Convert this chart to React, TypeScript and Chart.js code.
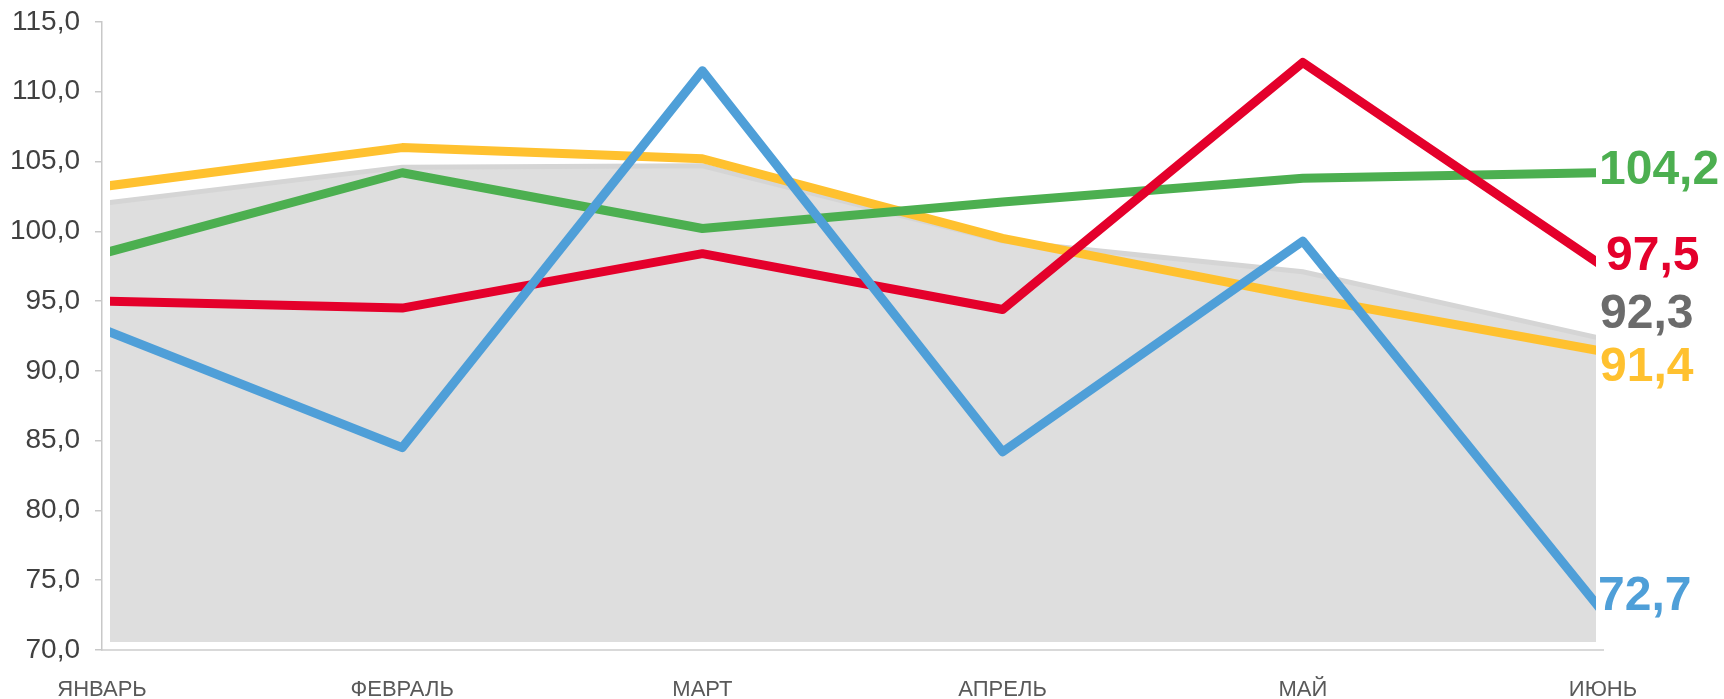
import { useEffect, useRef } from 'react';
import { Chart, registerables } from 'chart.js';

Chart.register(...registerables);

const months = ['ЯНВАРЬ', 'ФЕВРАЛЬ', 'МАРТ', 'АПРЕЛЬ', 'МАЙ', 'ИЮНЬ'];
const blueValues = [93.0, 84.5, 111.5, 84.2, 99.3, 72.7];
const redValues = [95.0, 94.5, 98.4, 94.4, 112.1, 97.5];
const greenValues = [98.4, 104.2, 100.2, 102.1, 103.8, 104.2];
const yellowValues = [103.2, 106.0, 105.2, 99.5, 95.3, 91.4];
const grayValues = [102.0, 104.6, 104.7, 99.3, 97.1, 92.3];

const yMin = 70;
const yMax = 115;
const yStep = 5;

const fmt = (v: number) => v.toFixed(1).replace('.', ',');

// label styling (order matches datasets)
const labelColors = ['#4F9FD8', '#E4002B', '#4CAF50', '#FFC12F', '#6B6B6B'];
const labelDx = [-5, 3, -4, -3, -3];
const labelDy = [-2, 4, 11, 30, -11];

const endLabelPlugin = {
  id: 'endLabels',
  afterDatasetsDraw(chart: any) {
    const ctx = chart.ctx;
    chart.data.datasets.forEach((ds: any, i: number) => {
      const meta = chart.getDatasetMeta(i);
      const pt = meta.data[meta.data.length - 1];
      const v = ds.data[ds.data.length - 1];
      ctx.save();
      ctx.font = 'bold 48px "Liberation Sans", Arial, sans-serif';
      ctx.fillStyle = labelColors[i];
      ctx.textAlign = 'left';
      ctx.textBaseline = 'alphabetic';
      ctx.fillText(fmt(v), pt.x + labelDx[i], pt.y + labelDy[i]);
      ctx.restore();
    });
  },
};

export default function App() {
  const ref = useRef<HTMLCanvasElement | null>(null);

  useEffect(() => {
    if (!ref.current) return;
    const lineClip = { left: -8, right: -7, top: 60, bottom: 60 };
    const chart = new Chart(ref.current, {
      type: 'line',
      data: {
        labels: months,
        datasets: [
          { data: blueValues, borderColor: '#4F9FD8', borderWidth: 9, pointRadius: 0, fill: false, clip: lineClip as any, borderJoinStyle: 'round' },
          { data: redValues, borderColor: '#E4002B', borderWidth: 9, pointRadius: 0, fill: false, clip: lineClip as any, borderJoinStyle: 'round' },
          { data: greenValues, borderColor: '#4CAF50', borderWidth: 9, pointRadius: 0, fill: false, clip: lineClip as any, borderJoinStyle: 'round' },
          { data: yellowValues, borderColor: '#FFC12F', borderWidth: 9, pointRadius: 0, fill: false, clip: lineClip as any, borderJoinStyle: 'round' },
          {
            data: grayValues,
            borderColor: '#d5d5d5',
            backgroundColor: '#dedede',
            borderWidth: 5,
            pointRadius: 0,
            fill: 'start',
            clip: { left: -8, right: -7, top: 60, bottom: -8 } as any,
          },
        ],
      },
      options: {
        responsive: false,
        animation: false,
        events: [],
        layout: { padding: { left: 0, right: 121, top: 0, bottom: 0 } },
        plugins: { legend: { display: false }, tooltip: { enabled: false } },
        scales: {
          x: {
            type: 'category',
            offset: false,
            grid: { display: false, drawTicks: false },
            border: { display: true, color: '#d9d9d9', width: 2 },
            ticks: {
              padding: 27,
              color: '#595959',
              font: { family: '"Liberation Sans", Arial, sans-serif', size: 22 },
              maxRotation: 0,
              autoSkip: false,
            },
            afterFit: (scale: any) => {
              scale.height = 49;
            },
          },
          y: {
            min: yMin,
            max: yMax,
            grid: { drawOnChartArea: false, drawTicks: true, tickLength: 7, color: '#c8c8c8', lineWidth: 1.5 },
            border: { display: true, color: '#c8c8c8', width: 1.5 },
            ticks: {
              stepSize: yStep,
              padding: 15,
              color: '#404040',
              font: { family: '"Liberation Sans", Arial, sans-serif', size: 28 },
              callback: (v: any) => fmt(Number(v)),
            },
            afterFit: (scale: any) => {
              scale.width = 102;
              scale.paddingTop = 22;
              scale.paddingBottom = 0;
            },
          },
        },
      },
      plugins: [endLabelPlugin],
    });
    return () => chart.destroy();
  }, []);

  return (
    <div style={{ position: 'fixed', left: 0, top: 0, width: 1724, height: 699, background: '#fff' }}>
      <canvas ref={ref} width={1724} height={699} style={{ width: 1724, height: 699, display: 'block' }} />
    </div>
  );
}
